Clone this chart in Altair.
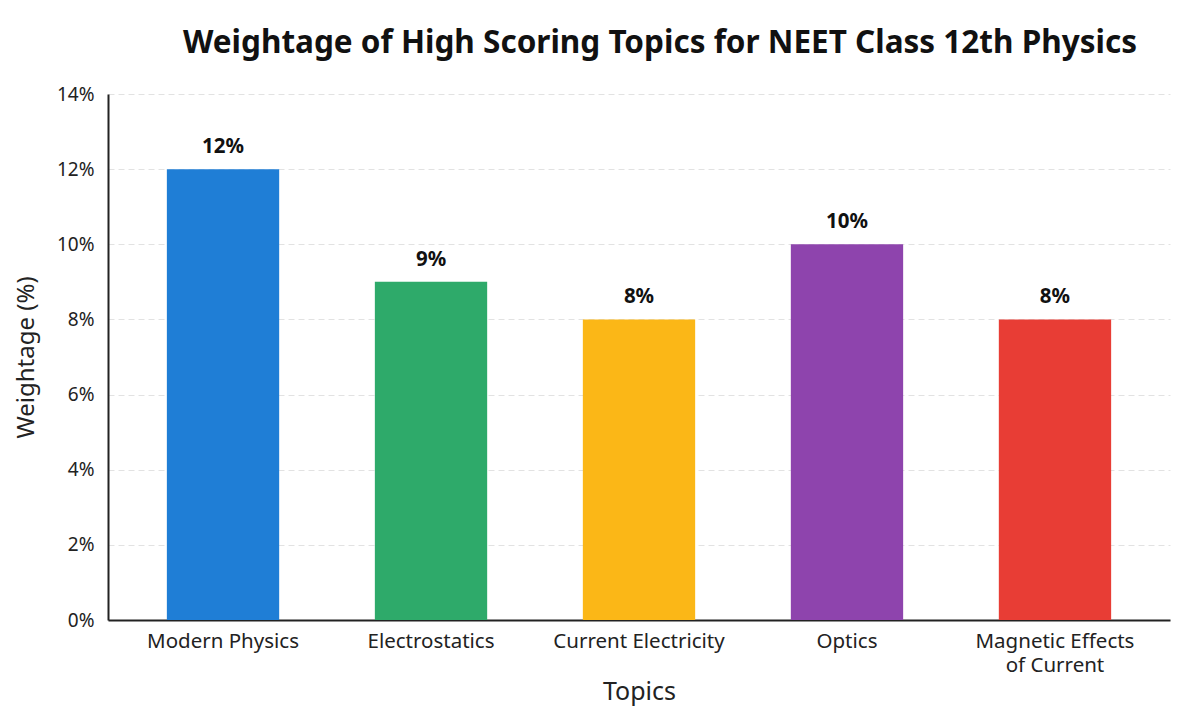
import altair as alt
import pandas as pd

topics = ["Modern Physics", "Electrostatics", "Current Electricity", "Optics", "Magnetic Effects of Current"]
weights = [12, 9, 8, 10, 8]
colors = ["#1f7ed6", "#2eaa6a", "#fbb717", "#8e44ad", "#e83d35"]

df = pd.DataFrame({"Topic": topics, "Weight": weights, "Label": [f"{w}%" for w in weights]})

FONT = "Noto Sans"

x = alt.X("Topic:N", sort=topics, title="Topics",
          scale=alt.Scale(paddingInner=0.46, paddingOuter=0.283),
          axis=alt.Axis(labelAngle=0, labelFontSize=20.5, labelColor="#222", labelFont=FONT,
                        titleFontSize=25, titleFont=FONT, titleFontWeight="normal", titleColor="#222",
                        titlePadding=4, labelPadding=11, ticks=False, domainColor="#222", domainWidth=2,
                        labelLineHeight=24,
                        labelExpr="datum.label == 'Magnetic Effects of Current' ? ['Magnetic Effects', 'of Current'] : datum.label"))
y = alt.Y("Weight:Q", title="Weightage (%)",
          scale=alt.Scale(domain=[0, 14]),
          axis=alt.Axis(values=[0, 2, 4, 6, 8, 10, 12, 14], labelExpr="datum.value + '%'",
                        labelFontSize=19, labelColor="#222", labelFont=FONT, ticks=False,
                        labelPadding=14, titleFontSize=24, titleFont=FONT, titleFontWeight="normal",
                        titleColor="#222", titlePadding=18, domainColor="#222", domainWidth=2,
                        grid=True, gridDash=[6, 4], gridColor="#e2e2e2", gridWidth=1))

bars = alt.Chart(df).mark_bar().encode(
    x=x, y=y,
    color=alt.Color("Topic:N", sort=topics, scale=alt.Scale(domain=topics, range=colors), legend=None),
)
text = alt.Chart(df).mark_text(baseline="bottom", dy=-12, fontSize=20.5, fontWeight="bold", font=FONT, color="#111").encode(
    x=alt.X("Topic:N", sort=topics), y="Weight:Q", text="Label:N")

chart = (bars + text).properties(
    width=1062, height=526,
    background="white",
    title=alt.TitleParams("Weightage of High Scoring Topics for NEET Class 12th Physics",
                          fontSize=31.5, font=FONT, fontWeight="bold", color="#111", anchor="middle", dx=21, offset=26),
    autosize=alt.AutoSizeParams(type="none"),
    padding={"left": 108, "top": 94, "right": 30, "bottom": 98},
).configure_view(strokeWidth=0, strokeOpacity=0)

chart.save("out.html", embed_options={"renderer": "svg", "actions": False})
